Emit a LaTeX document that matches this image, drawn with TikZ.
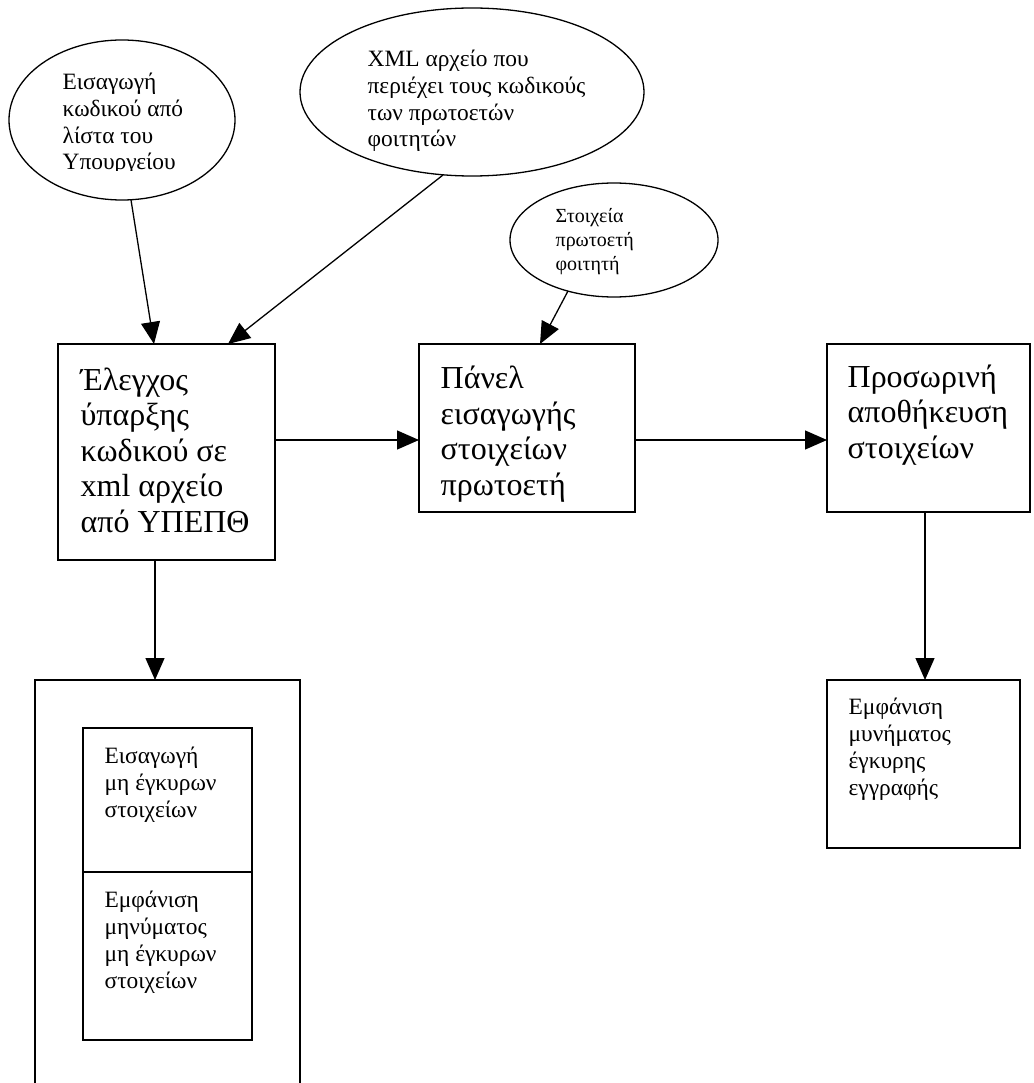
\documentclass[tikz,border=0pt]{standalone}
\usepackage{fontspec}
\setmainfont{Liberation Serif}
\usetikzlibrary{shapes.geometric,arrows.meta,calc}
\begin{document}
\begin{tikzpicture}[x=1pt,y=-1pt,
  line width=1.3pt,
  bubble/.style={draw, ellipse, inner sep=0pt, outer sep=0pt},
  stepbox/.style={draw, rectangle, inner sep=0pt, outer sep=0pt, anchor=north west},
  % multi-line texts are placed by the baseline of their last line
  txt/.style={anchor=base west, inner sep=0pt, align=left},
  big/.style={font=\fontsize{32}{35.5}\selectfont},
  mid/.style={font=\fontsize{23.4}{26.8}\selectfont},
  small/.style={font=\fontsize{20}{24}\selectfont},
  flow/.style={-{Triangle[length=22pt,width=19pt]}}
]
% page area
\clip (0,0) rectangle (1033,1083);
\fill[white] (0,0) rectangle (1033,1083);

% input bubbles
\node[bubble, minimum width=226pt, minimum height=160pt] (e1) at (122,120) {};
\node[bubble, minimum width=344pt, minimum height=168pt] (e2) at (472,92) {};
\node[bubble, minimum width=208pt, minimum height=114pt] (e3) at (614,240) {};

% process boxes
\node[stepbox, minimum width=217pt, minimum height=216pt] (b1) at (58,344) {};
\node[stepbox, minimum width=216pt, minimum height=168pt] (b2) at (419,344) {};
\node[stepbox, minimum width=203pt, minimum height=168pt] (b3) at (827,344) {};
\node[stepbox, minimum width=193pt, minimum height=168pt] (b4) at (827,680) {};
\node[stepbox, minimum width=265pt, minimum height=430pt] (outer) at (35,680) {};
\node[stepbox, minimum width=169pt, minimum height=144pt] (in1) at (83,728) {};
\node[stepbox, minimum width=169pt, minimum height=168pt] (in2) at (83,872) {};

% bubble texts (the first one is cut off by its text frame)
\begin{scope}
  \clip (0,0) rectangle (300,171);
  \node[txt, mid] (te1) at (62,170) {Εισαγωγή\\κωδικού από\\λίστα του\\Υπουργείου};
\end{scope}
\node[txt, mid] (te2) at (367,147) {XML αρχείο που\\περιέχει τους κωδικούς\\των πρωτοετών\\φοιτητών};
\node[txt, small] (te3) at (555,270) {Στοιχεία\\πρωτοετή\\φοιτητή};

% box texts
\node[txt, big] (tb1) at (80,532) {Έλεγχος\\ύπαρξης\\κωδικού σε\\xml αρχείο\\από ΥΠΕΠΘ};
\node[txt, big] (tb2) at (440,495) {Πάνελ\\εισαγωγής\\στοιχείων\\πρωτοετή};
\node[txt, big] (tb3) at (847,458) {Προσωρινή\\αποθήκευση\\στοιχείων};
\node[txt, mid] (tb4) at (848,795) {Εμφάνιση\\μυνήματος\\έγκυρης\\εγγραφής};
\node[txt, mid] (tin1) at (104,817) {Εισαγωγή\\μη έγκυρων\\στοιχείων};
\node[txt, mid] (tin2) at (104,988) {Εμφάνιση\\μηνύματος\\μη έγκυρων\\στοιχείων};

% connectors
\draw[flow] ($(e1.center)+(9,80)$) -- ($(b1.north west)+(96,0)$);
\draw[flow] ($(e2.center)+(-29,83)$) -- ($(b1.north west)+(170,0)$);
\draw[flow] ($(e3.center)+(-46,51)$) -- ($(b2.north west)+(121,0)$);
\draw[flow] ($(b1.north east)+(0,96)$) -- ($(b2.north west)+(0,96)$);
\draw[flow] ($(b2.north east)+(0,96)$) -- ($(b3.north west)+(0,96)$);
\draw[flow] ($(b1.south west)+(97,0)$) -- ($(outer.north west)+(120,0)$);
\draw[flow] ($(b3.south west)+(98,0)$) -- ($(b4.north west)+(98,0)$);
\end{tikzpicture}
\end{document}
